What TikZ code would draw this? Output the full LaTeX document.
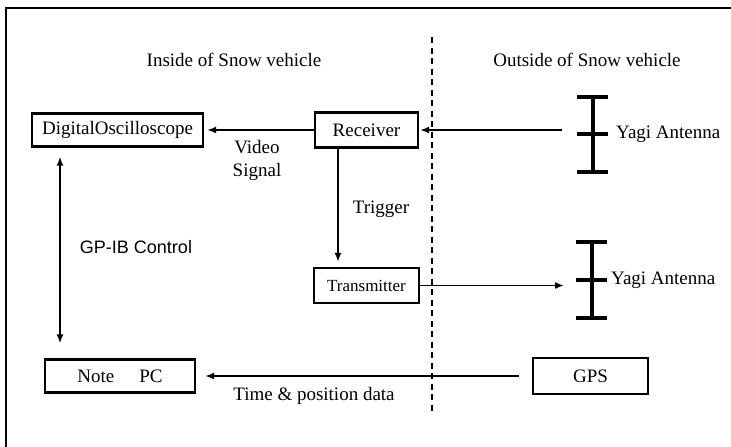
\documentclass[tikz,border=0pt]{standalone}
\usepackage{fontspec}
\setmainfont{Liberation Serif}
\newfontfamily\labsans{Liberation Sans}
\usetikzlibrary{arrows.meta,calc}
\begin{document}
\begin{tikzpicture}[x=1pt,y=-1pt,
  box/.style={draw,line width=2.2pt,minimum width=#1,inner sep=0pt,font=\fontsize{19}{22}\selectfont},
  lbl/.style={inner sep=0pt,font=\fontsize{19}{22}\selectfont},
  arr/.style={line width=1.8pt,-{Latex[length=9pt,width=7pt]}},
  arrtwo/.style={line width=1.8pt,{Latex[length=9pt,width=7pt]}-{Latex[length=9pt,width=7pt]}},
  ant/.style={line width=3.2pt},
  sep/.style={line width=2.5pt,dash pattern=on 6pt off 4.5pt},
  frame/.style={line width=1.8pt}]
\useasboundingbox (0,0) rectangle (731,447);
% frame
\draw[frame] (731,8) -- (6,8) -- (6,447);
% headers
\node[lbl] (inside) at (234,60) {Inside of Snow vehicle};
\node[lbl] (outside) at (587,60) {Outside of Snow vehicle};
% divider
\coordinate (dtop) at (432,37);
\coordinate (dbot) at (432,414);
\draw[sep] (dtop) -- (dbot);
% boxes
\node[box=171pt,minimum height=33pt] (osc) at (117.5,130) {DigitalOscilloscope};
\node[box=103pt,minimum height=35pt] (rx) at (366.5,130) {Receiver};
\node[box=105pt,minimum height=35pt,font=\fontsize{17}{20}\selectfont] (tx) at (366.5,285.5) {Transmitter};
\node[box=150pt,minimum height=33pt] (pc) at (120,376) {Note\hspace{25pt}PC};
\node[box=115pt,minimum height=36pt] (gps) at (590.5,376) {GPS};
% antennas
\coordinate (a1) at (593,134);
\coordinate (a2) at (592,280);
\begin{scope}[shift={(a1)}]
  \draw[ant] (0,-37) -- (0,38);
  \draw[ant] (-16,-37) -- (15,-37) (-16,0) -- (15,0) (-16,38) -- (15,38);
\end{scope}
\begin{scope}[shift={(a2)}]
  \draw[ant] (0,-38) -- (0,38);
  \draw[ant] (-16,-38) -- (15,-38) (-16,0) -- (15,0) (-16,38) -- (15,38);
\end{scope}
\node[lbl,anchor=west] (ya1) at (616,134) {Yagi Antenna};
\node[lbl,anchor=west] (ya2) at (611,280) {Yagi Antenna};
% connectors
\coordinate (a1in) at (562,130);
\coordinate (a2in) at (564,285.5);
\coordinate (gx) at (60,0);
\coordinate (tg) at (338,0);
\draw[arr,shorten >=1pt] (a1in) -- (rx.east);
\draw[arr,shorten >=3pt] (rx.west) -- (osc.east);
\draw[arr,shorten >=5pt] (rx.south -| tg) -- (tx.north -| tg);
\draw[arr] (tx.east) -- (a2in);
\draw[arr,shorten <=13pt,shorten >=9pt] (gps.west) -- (pc.east);
\draw[arrtwo,shorten <=9pt,shorten >=15pt] (osc.south -| gx) -- (pc.north -| gx);
% labels
\node[lbl] (video) at (257,147) {Video};
\node[lbl] (signal) at (257,172) {Signal};
\node[lbl] (trig) at (381,209) {Trigger};
\node[lbl,font=\labsans\fontsize{18}{21}\selectfont] (gpib) at (136,247) {GP-IB Control};
\node[lbl] (tpd) at (314,396) {Time \& position data};
\end{tikzpicture}
\end{document}
